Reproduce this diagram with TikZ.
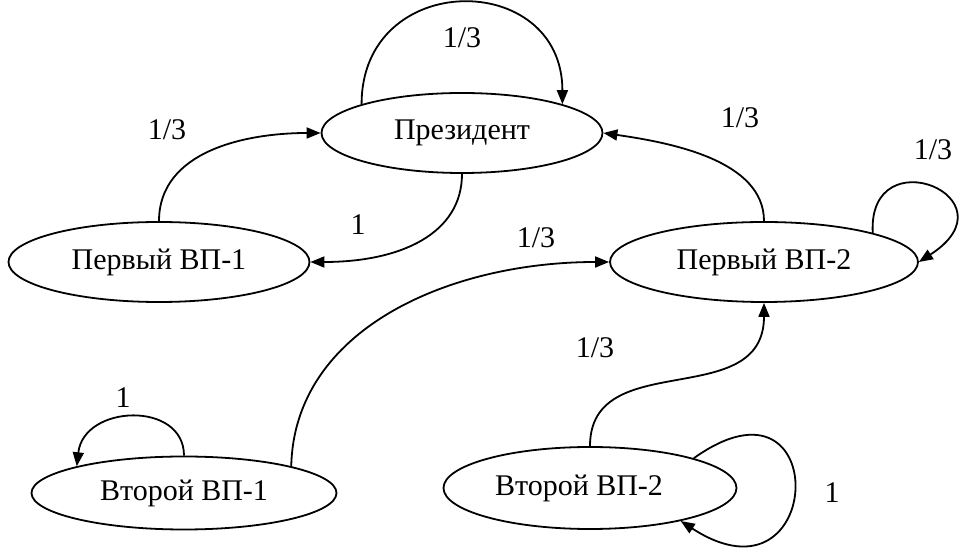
\documentclass[tikz,border=0pt]{standalone}
\usepackage{fontspec}
\setmainfont{Liberation Serif}
\usetikzlibrary{shapes.geometric,arrows.meta}

\begin{document}
\begin{tikzpicture}
  [x=0.5pt,y=-0.5pt,line width=0.9pt,>={Triangle[length=7pt,width=5.5pt]},
   every node/.style={font=\fontsize{15}{17}\selectfont},
   post/.style={ellipse,draw,inner sep=0pt,minimum height=40pt}]

  \useasboundingbox (0,0) rectangle (975,560);

  \node[post,minimum width=140.5pt] (pres) at (462,133) {Президент};
  \node[post,minimum width=150.5pt] (fv1) at (159,262) {Первый ВП-1};
  \node[post,minimum width=154pt] (fv2) at (764,262) {Первый ВП-2};
  \node[post,minimum width=152.5pt,minimum height=36.5pt] (sv1) at (184,493) {Второй ВП-1};
  \node[post,minimum width=146.5pt,minimum height=41pt] (sv2) at (590,488) {\hspace*{-11pt}Второй ВП-2};

  \draw[->] (pres.164) .. controls +(0,-135) and +(0,-135) .. (pres.16);
  \draw[->] (fv1.north) .. controls +(0,-70) and +(-75,0) .. (pres.west);
  \draw[->] (pres.south) .. controls +(0,60) and +(90,0) .. (fv1.east);
  \draw[->] (fv2.north) .. controls +(0,-60) and +(70,10) .. (pres.east);
  \draw[->] (fv2.15) .. controls +(-5,-97) and +(99,-64) .. (fv2.east);
  \draw[->] (sv1.14) .. controls +(3,-137) and +(-160,0) .. (fv2.west);
  \draw[->] (sv1.north) .. controls +(0,-55) and +(7,-62) .. (sv1.166);
  \draw[->] (sv2.north) .. controls +(0,-100) and +(0,110) .. (fv2.south);
  \draw[->] (sv2.16) .. controls +(140,-100) and +(145,94) .. (sv2.-20);

  \node (w1) at (462,38) {1/3};
  \node (w2) at (167,130) {1/3};
  \node (w3) at (358,225) {1};
  \node (w4) at (740,118) {1/3};
  \node (w5) at (933,150) {1/3};
  \node (w6) at (536,238) {1/3};
  \node (w7) at (123,398) {1};
  \node (w8) at (595,348) {1/3};
  \node (w9) at (832,493) {1};

\end{tikzpicture}
\end{document}
